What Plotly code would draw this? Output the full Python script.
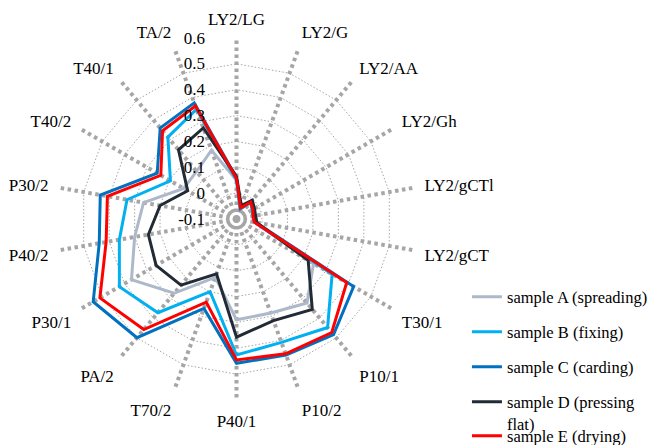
import plotly.graph_objects as go

categories = ["LY2/LG", "LY2/G", "LY2/AA", "LY2/Gh", "LY2/gCTl", "LY2/gCT",
              "T30/1", "P10/1", "P10/2", "P40/1", "T70/2", "PA/2",
              "P30/1", "P40/2", "P30/2", "T40/2", "T40/1", "TA/2"]

sample_a = [0.050, -0.055, -0.015, -0.030, -0.035, -0.030, 0.244, 0.324, 0.287,
            0.290, 0.140, 0.275, 0.369, 0.300, 0.265, 0.136, 0.140, 0.183]
sample_b = [0.050, -0.060, -0.015, -0.030, -0.035, -0.030, 0.327, 0.448, 0.408,
            0.426, 0.199, 0.373, 0.423, 0.360, 0.330, 0.195, 0.313, 0.352]
sample_c = [0.060, -0.050, -0.010, -0.025, -0.030, -0.025, 0.423, 0.484, 0.460,
            0.458, 0.268, 0.499, 0.540, 0.439, 0.435, 0.254, 0.359, 0.378]
sample_d = [0.065, -0.045, -0.005, -0.020, -0.025, -0.020, 0.220, 0.356, 0.318,
            0.357, 0.126, 0.234, 0.259, 0.246, 0.200, 0.118, 0.249, 0.275]
sample_e = [0.057, -0.055, -0.015, -0.027, -0.035, -0.030, 0.392, 0.473, 0.455,
            0.445, 0.242, 0.458, 0.510, 0.412, 0.407, 0.238, 0.345, 0.365]

series_names = ["sample A (spreading)", "sample B (fixing)", "sample C (carding)",
                "sample D (pressing<br>flat)", "sample E (drying)"]
series_values = [sample_a, sample_b, sample_c, sample_d, sample_e]
series_colors = ["#adb9ca", "#00b0f0", "#0070c0", "#222a35", "#ff0000"]

radial_ticks = [-0.1, 0, 0.1, 0.2, 0.3, 0.4, 0.5, 0.6]
radial_labels = ["-0.1", "0", "0.1", "0.2", "0.3", "0.4", "0.5", "0.6"]

FONT = "Liberation Serif, Times New Roman, serif"
legend_tops = [0.3716, 0.2933, 0.2146, 0.1359, 0.0596]

fig = go.Figure()
for i, (name, vals, col) in enumerate(zip(series_names, series_values, series_colors)):
    fig.add_trace(go.Scatterpolar(
        r=vals + vals[:1],
        theta=categories + categories[:1],
        mode="lines",
        name=name,
        line=dict(color=col, width=3),
        legend="legend" if i == 0 else f"legend{i+1}",
    ))

layout = dict(
    width=654, height=445,
    margin=dict(l=0, r=0, t=0, b=0, autoexpand=False),
    paper_bgcolor="white",
    plot_bgcolor="white",
    font=dict(family=FONT, size=17, color="black"),
    polar=dict(
        domain=dict(x=[55.5/654, 417.5/654], y=[1-400/445, 1-38/445]),
        bgcolor="white",
        gridshape="linear",
        angularaxis=dict(
            type="category",
            categoryorder="array",
            categoryarray=categories,
            direction="clockwise",
            rotation=90,
            showline=False,
            showgrid=True,
            gridcolor="#a6a6a6",
            gridwidth=3.5,
            griddash="3.5px,3.5px",
            ticks="outside",
            ticklen=6,
            tickcolor="rgba(0,0,0,0)",
            tickfont=dict(family=FONT, size=17, color="black"),
        ),
        radialaxis=dict(
            range=[-0.1, 0.6],
            tickvals=radial_ticks,
            ticktext=radial_labels,
            angle=90,
            side="counterclockwise",
            showline=False,
            showgrid=True,
            gridcolor="#a6a6a6",
            gridwidth=1,
            griddash="1.5px,2px",
            ticks="outside",
            ticklen=25,
            tickcolor="rgba(0,0,0,0)",
            tickangle=90,
            tickfont=dict(family=FONT, size=17, color="black"),
        ),
    ),
    showlegend=True,
)
for i, top in enumerate(legend_tops):
    key = "legend" if i == 0 else f"legend{i+1}"
    layout[key] = dict(
        x=0.714, y=top, xanchor="left", yanchor="top",
        bgcolor="rgba(0,0,0,0)", borderwidth=0,
        font=dict(family=FONT, size=16.5, color="black"),
        valign="top",
    )
fig.update_layout(**layout)
fig.write_html("out.html", config={"displayModeBar": False},
               post_script="document.body.style.margin='0';")
